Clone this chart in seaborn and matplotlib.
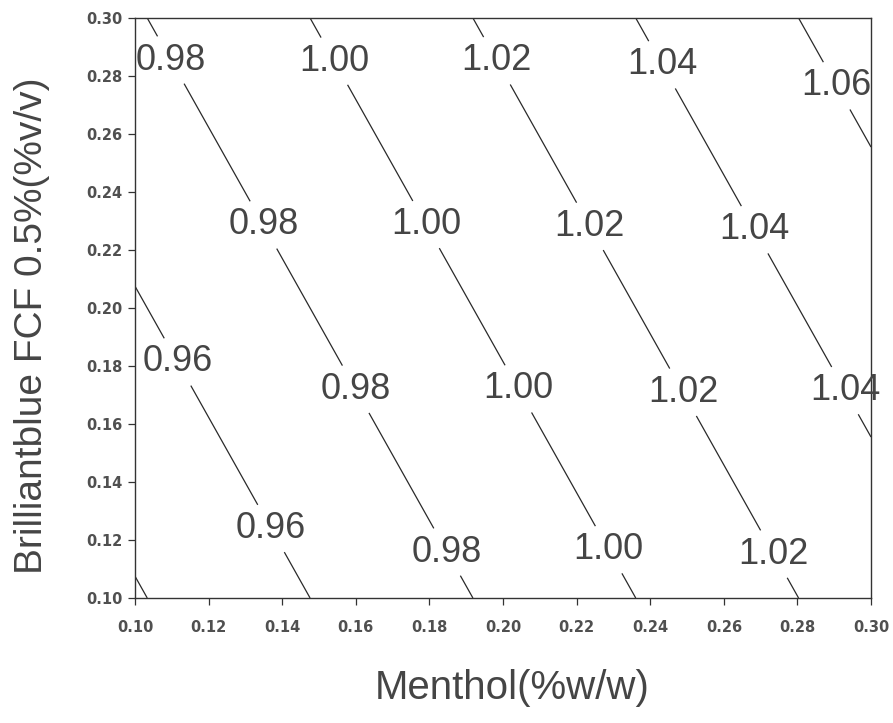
import numpy as np
import matplotlib
matplotlib.use("Agg")
import matplotlib.pyplot as plt
import seaborn as sns

# Data (response surface values at grid nodes)
menthol = [0.10, 0.20, 0.30]          # x, %w/w
brilliant = [0.10, 0.20, 0.30]        # y, %v/v
response_y010 = [0.9385, 0.9837, 1.0289]
response_y020 = [0.9585, 1.0037, 1.0489]
response_y030 = [0.9785, 1.0237, 1.0689]
levels = [0.94, 0.96, 0.98, 1.00, 1.02, 1.04, 1.06]
xticks = [0.10, 0.12, 0.14, 0.16, 0.18, 0.20, 0.22, 0.24, 0.26, 0.28, 0.30]
yticks = [0.10, 0.12, 0.14, 0.16, 0.18, 0.20, 0.22, 0.24, 0.26, 0.28, 0.30]
label_spots = [
    (0.109, 0.285), (0.154, 0.285), (0.198, 0.285), (0.242, 0.283), (0.287, 0.274),
    (0.134, 0.228), (0.178, 0.228), (0.222, 0.227), (0.267, 0.226),
    (0.111, 0.181), (0.160, 0.172), (0.204, 0.172), (0.249, 0.171), (0.288, 0.168),
    (0.137, 0.124), (0.185, 0.116), (0.225, 0.114), (0.272, 0.114),
]

sns.set_style("ticks")
plt.rcParams['font.family'] = ['Liberation Sans', 'DejaVu Sans']

fig = plt.figure(figsize=(8.93, 7.23), dpi=100)
ax = fig.add_axes([0.1512, 0.1729, 0.8242, 0.8022])

X, Y = np.meshgrid(menthol, brilliant)
Z = np.array([response_y010, response_y020, response_y030])
cs = ax.contour(X, Y, Z, levels=levels, colors='#2a2a2a', linewidths=0.9)
texts = ax.clabel(cs, fmt='%.2f', fontsize=26, colors='#454545',
                  inline=True, inline_spacing=-8, manual=label_spots)
for t in texts:
    t.set_rotation(0)
    t.set_clip_on(False)

ax.set_xlim(0.10, 0.30)
ax.set_ylim(0.10, 0.30)
ax.set_xticks(xticks)
ax.set_yticks(yticks)
ax.set_xticklabels([f"{v:.2f}" for v in xticks])
ax.set_yticklabels([f"{v:.2f}" for v in yticks])
ax.tick_params(axis='both', labelsize=10.5, colors='#333333', length=5, width=0.9, direction='out')
ax.tick_params(axis='x', pad=11)
ax.tick_params(axis='y', pad=4)
for lab in ax.get_xticklabels() + ax.get_yticklabels():
    lab.set_fontweight('bold')
    lab.set_family(['DejaVu Sans'])
    lab.set_color('#505050')
for sp in ax.spines.values():
    sp.set_color('#333333')
    sp.set_linewidth(1.0)

ax.set_xlabel('Menthol(%w/w)', fontsize=29, color='#454545')
ax.set_ylabel('Brilliantblue FCF 0.5%(%v/v)', fontsize=28, color='#454545')
ax.xaxis.set_label_coords(0.512, -0.122)
ax.yaxis.set_label_coords(-0.115, 0.47)

fig.savefig('out.png', dpi=100, facecolor='white')
